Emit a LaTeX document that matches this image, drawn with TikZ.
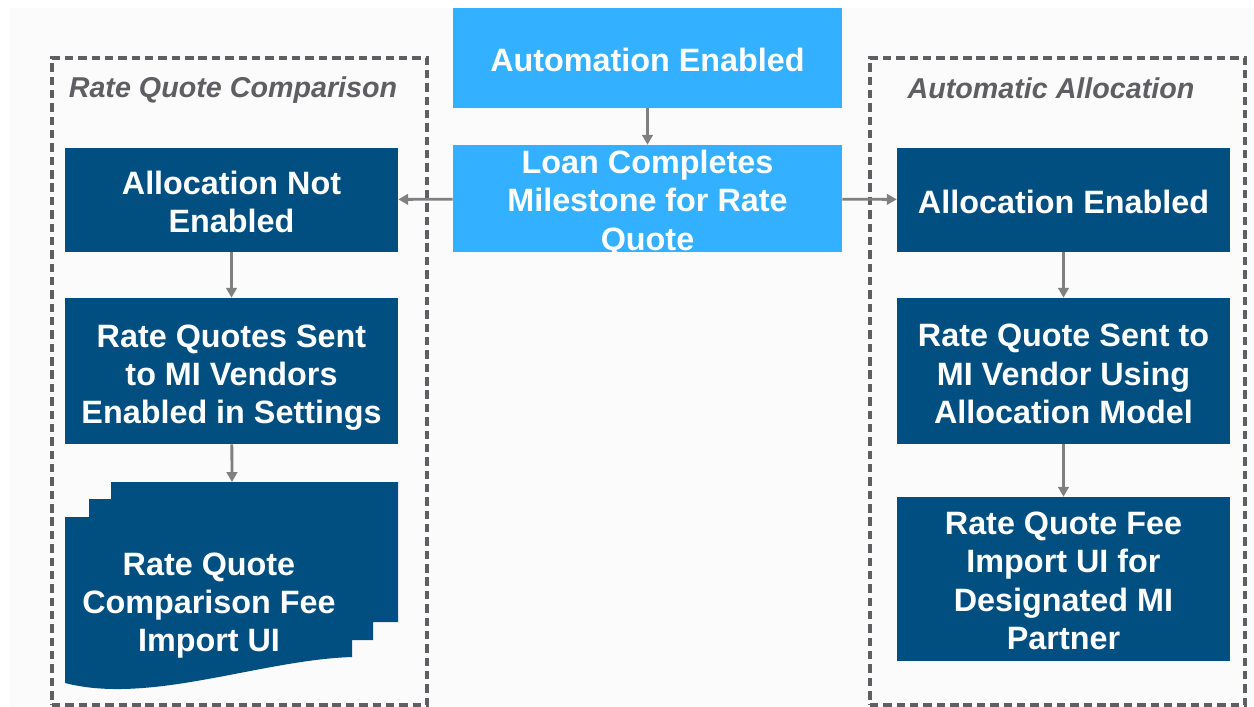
\documentclass[tikz,border=0pt]{standalone}
\usepackage{fontspec}
\setmainfont{Liberation Sans}
\usetikzlibrary{arrows.meta}
\definecolor{lightblue}{RGB}{51,176,255}
\definecolor{darkblue}{RGB}{1,79,128}
\definecolor{arrowgray}{RGB}{128,128,128}
\definecolor{framegray}{RGB}{95,95,99}
\definecolor{pagegray}{RGB}{251,251,251}

\begin{document}
\begin{tikzpicture}
[x=0.025cm,y=-0.025cm,%
  every node/.style={align=center,inner sep=0pt,text=white,font=\bfseries\fontsize{23}{27.3}\selectfont},%
  stage/.style={fill=lightblue,minimum width=9.725cm},%
  task/.style={fill=darkblue,minimum width=8.325cm},%
  lower/.style={execute at begin node={\rule{0pt}{#1}}},%
  group/.style={draw=framegray,line width=2.4pt,dash pattern=on 6pt off 3.5pt,minimum width=9.375cm,minimum height=16.175cm},%
  grouptitle/.style={anchor=base,text=framegray,font=\bfseries\itshape\fontsize{20.4}{24}\selectfont},%
  flow/.style={-{Triangle[length=7pt,width=7.5pt]},draw=arrowgray,line width=2pt}]
% page
\fill[white] (0,0) rectangle (1254,707);
\fill[pagegray] (10,8) rectangle (1254,707);
%%
\node[group] (grpL) at (239.5,381.5) {};
\node[group] (grpR) at (1057.5,381.5) {};
\node[grouptitle] (titleL) at (233,98) {Rate Quote Comparison};
\node[grouptitle] (titleR) at (1051,99) {Automatic Allocation};
%%
\node[stage,minimum height=2.5cm,lower=19.5pt] (auto) at (647.5,58) {Automation Enabled};
\node[stage,minimum height=2.675cm,lower=74.5pt,text depth=1pt] (loan) at (647.5,198.5)
  {Loan Completes\\Milestone for Rate\\Quote};
%%
\node[task,minimum height=2.6cm,lower=47pt] (notenab) at (231.5,200) {Allocation Not\\Enabled};
\node[task,minimum height=3.65cm,lower=80pt] (sentL) at (231.5,371)
  {Rate Quotes Sent\\to MI Vendors\\Enabled in Settings};
% stacked documents
\fill[darkblue] (111,482) -- (398,482) -- (398,622) -- (373,622) -- (373,640)
  -- (352,640) -- (352,657) .. controls (260,660) and (150,705) .. (65,683)
  -- (65,517) -- (89,517) -- (89,499) -- (111,499) -- cycle;
\coordinate (docTop) at (232,482);
\node[lower=76.5pt] (docL) at (209,601.5) {Rate Quote\\Comparison Fee\\Import UI};
%%
\node[task,minimum height=2.6cm,lower=19.5pt] (enab) at (1063.5,200) {Allocation Enabled};
\node[task,minimum height=3.65cm,lower=75pt] (sentR) at (1063.5,371)
  {Rate Quote Sent to\\MI Vendor Using\\Allocation Model};
\node[task,minimum height=4.1cm,lower=100.5pt] (feeR) at (1063.5,579)
  {Rate Quote Fee\\Import UI for\\Designated MI\\Partner};
\path
\foreach \startNode/\endNode in {auto/loan, loan/notenab, loan/enab,
  notenab/sentL, sentL/docTop, enab/sentR, sentR/feeR}
{
  (\startNode) edge[flow] (\endNode)
};
\end{tikzpicture}
\end{document}
